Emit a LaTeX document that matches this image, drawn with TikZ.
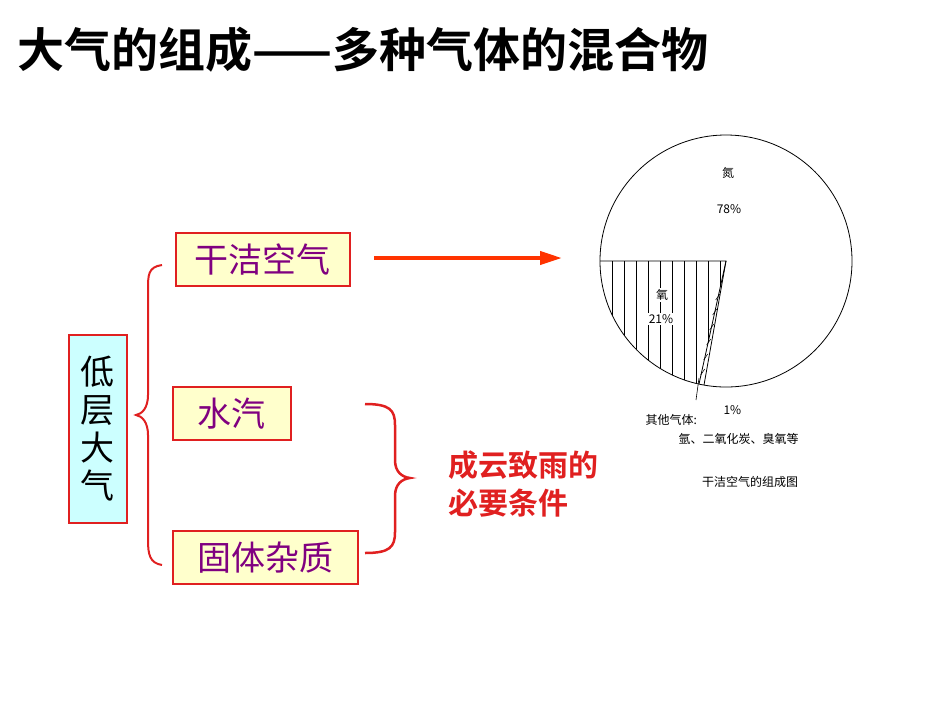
\documentclass[tikz,border=0pt]{standalone}
\usepackage{fontspec}
\setmainfont{Noto Sans CJK SC}
\newfontfamily\cjkb{Noto Sans CJK SC Bold}
\usetikzlibrary{arrows.meta}
\definecolor{bxred}{HTML}{E02020}
\definecolor{bxpur}{HTML}{800080}
\definecolor{arr}{HTML}{FF3300}
\tikzset{
 itembox/.style={draw=bxred,line width=1.5pt,fill={rgb,255:red,255;green,255;blue,204},text=bxpur,font=\fontsize{34}{36}\selectfont,anchor=north west,inner sep=0pt,align=center},
 piet/.style={font=\fontsize{12}{14}\selectfont}
}
\begin{document}
\begin{tikzpicture}[x=1pt,y=-1pt]
\useasboundingbox (0,0) rectangle (950,713);
\node[anchor=west,font=\cjkb\fontsize{47}{49}\selectfont] (title) at (14,50) {大气的组成——多种气体的混合物};
\node[itembox,minimum width=174pt,minimum height=53pt] (a) at (175,232) {干洁空气};
\node[itembox,minimum width=118pt,minimum height=53pt] (b) at (172,386) {水汽};
\node[itembox,minimum width=185pt,minimum height=53pt] (c) at (172,530) {固体杂质};
\node[itembox,text=black,fill={rgb,255:red,204;green,255;blue,255},minimum width=58pt,minimum height=188pt,align=center] (d) at (68,334) {低\\[2pt]层\\[2pt]大\\[2pt]气};
% left brace
\draw[bxred,line width=2pt] (162,265) .. controls (148,267) and (148,275) .. (148,290) -- (148,395) .. controls (148,408) and (142,414) .. (136,415) .. controls (142,416) and (148,422) .. (148,435) -- (148,540) .. controls (148,555) and (150,563) .. (162,565);
% right brace
\draw[bxred,line width=2.5pt] (365,404) .. controls (390,404) and (395,410) .. (395,425) -- (395,460) .. controls (395,472) and (402,477) .. (410,478) .. controls (402,479) and (395,484) .. (395,496) -- (395,532) .. controls (395,547) and (390,553) .. (365,553);
\node[anchor=west,text=bxred,font=\cjkb\fontsize{30}{38}\selectfont,align=left] (t) at (445,484) {成云致雨的\\必要条件};
\coordinate (p0) at (726,261);
\draw[arr,line width=4pt,-{Triangle[length=22pt,width=13pt]}] (374,258) -- (562,258);
% pie
\begin{scope}
\clip (p0) -- (600,261) arc[start angle=180,end angle=102,radius=126] -- cycle;
\foreach \xx in {612,624,...,720} \draw[line width=0.7pt] (\xx,255) -- (\xx,400);
\end{scope}
\draw[line width=0.8pt] (p0) circle[radius=126];
\draw[line width=0.8pt] (600,261) -- (p0) -- (699,384);
\draw[line width=0.8pt] (p0) -- (704,385);
\foreach \yy in {300,315,...,375} \draw[line width=0.6pt] ({726-(\yy-261)*0.2-2.5},\yy) -- ++(4,-6);
\draw[line width=0.6pt] (699,378) -- (696,400);
\node[piet] (n1) at (728,173) {氮};
\node[piet] (n2) at (729,209) {78\%};
\node[piet,fill=white,inner sep=1pt] (o1) at (662,295) {氧};
\node[piet,fill=white,inner sep=1pt] (o2) at (661,319) {21\%};
\node[piet,anchor=west] (q1) at (642,420) {其他气体:};
\node[piet,anchor=west] (q2) at (720,410) {1\%};
\node[piet,anchor=west] (q3) at (675,439) {氩、二氧化炭、臭氧等};
\node[piet] (cap) at (750,482) {干洁空气的组成图};
\end{tikzpicture}
\end{document}
